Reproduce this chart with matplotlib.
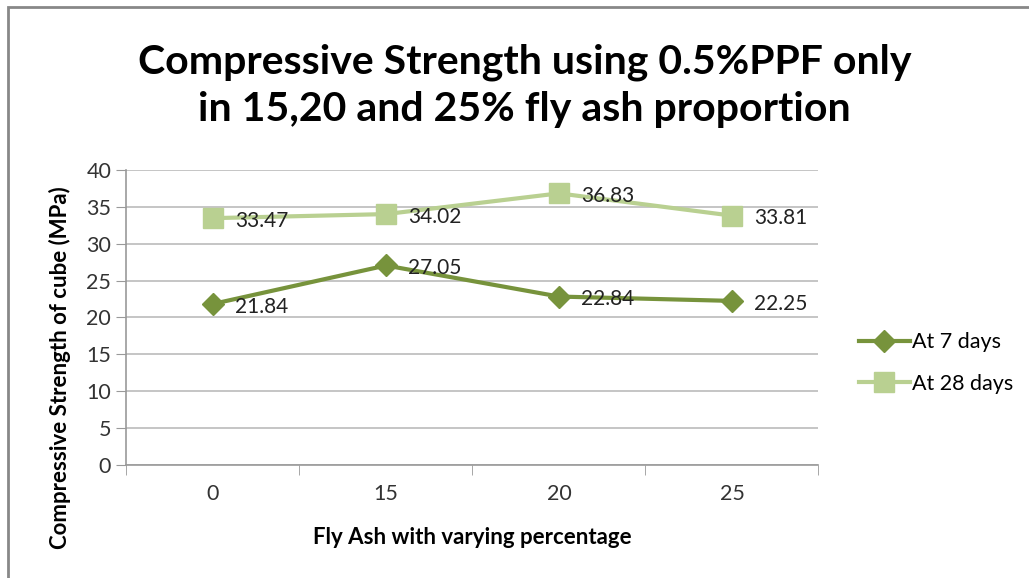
import numpy as np
import matplotlib.pyplot as plt
from matplotlib.patches import Rectangle

plt.rcParams['font.family'] = ['Lato', 'DejaVu Sans']

# Data
fly_ash = ["0", "15", "20", "25"]
days_7 = [21.84, 27.05, 22.84, 22.25]
days_28 = [33.47, 34.02, 36.83, 33.81]

x = np.arange(len(fly_ash))

fig = plt.figure(figsize=(10.29, 5.78), dpi=100)
ax = fig.add_axes([0.1229, 0.1955, 0.6725, 0.5104])

dark = "#77933C"
light = "#B9D091"

ax.plot(x, days_7, color=dark, lw=3, marker="D", markersize=11, label="At 7 days", zorder=3)
ax.plot(x, days_28, color=light, lw=3, marker="s", markersize=14, label="At 28 days", zorder=3)

for xi, v in zip(x, days_7):
    ax.annotate(f"{v:.2f}", (xi, v), xytext=(16, -2), textcoords="offset points",
                ha="left", va="center", fontsize=15, color="#222222")
for xi, v in zip(x, days_28):
    ax.annotate(f"{v:.2f}", (xi, v), xytext=(16, -2), textcoords="offset points",
                ha="left", va="center", fontsize=15, color="#222222")

ax.set_xlim(-0.5, 3.5)
ax.set_ylim(0, 40)
ax.set_yticks(range(0, 41, 5))
ax.set_xticks(x)
ax.set_xticklabels(fly_ash)
ax.set_xticks(np.arange(-0.5, 4, 1), minor=True)
ax.tick_params(axis="x", which="major", length=0, pad=14, labelsize=15.5, colors="#333333")
ax.tick_params(axis="x", which="minor", length=7, color="#999999")
ax.tick_params(axis="y", length=7, color="#999999", labelsize=15.5, labelcolor="#333333", pad=4)

ax.grid(axis="y", color="#BBBBBB", lw=1.2)
ax.set_axisbelow(True)
for s in ["top", "right"]:
    ax.spines[s].set_visible(False)
for s in ["left", "bottom"]:
    ax.spines[s].set_color("#999999")
    ax.spines[s].set_linewidth(1.2)

ax.set_xlabel("Fly Ash with varying percentage", fontsize=16, fontweight="bold", labelpad=16)
ax.set_ylabel("Compressive Strength of cube (MPa)", fontsize=16, fontweight="bold")
ax.yaxis.set_label_coords(-0.08, 0.33)

fig.text(0.51, 0.852, "Compressive Strength using 0.5%PPF only\nin 15,20 and 25% fly ash proportion",
         ha="center", va="center", fontsize=29.5, fontweight="bold", linespacing=1.35)

ax.legend(loc="center left", bbox_to_anchor=(1.03, 0.345), frameon=False, fontsize=15.5,
          labelspacing=1.0, handlelength=2.4, handletextpad=0.1)

fig.patches.append(Rectangle((0.008, -0.1), 1.2, 1.088, transform=fig.transFigure,
                             fill=False, edgecolor="#888888", lw=2))

fig.savefig("out.png", dpi=100)
